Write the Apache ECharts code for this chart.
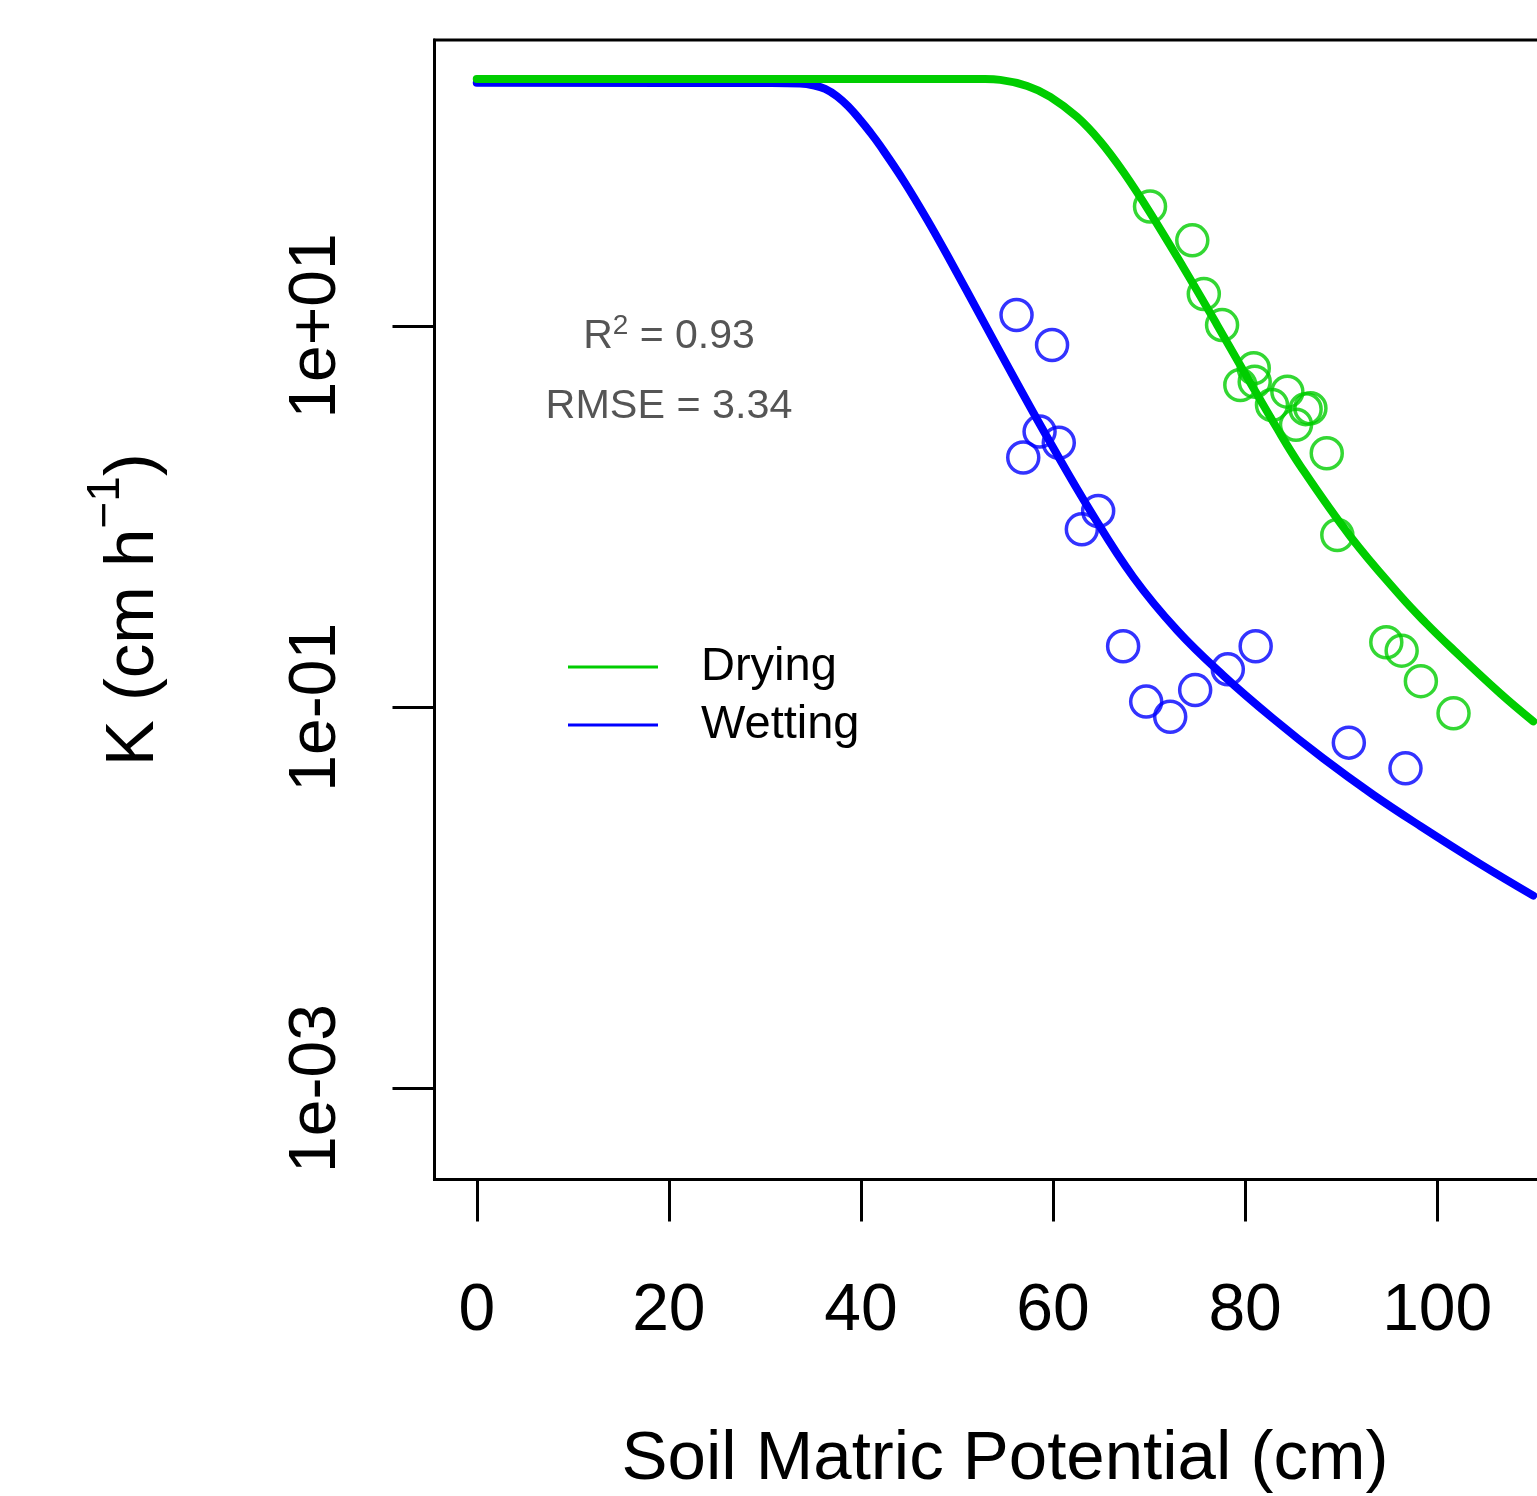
<!DOCTYPE html>
<html><head><meta charset="utf-8">
<script src="https://cdn.jsdelivr.net/npm/echarts@6/dist/echarts.min.js"></script>
<style>html,body{margin:0;padding:0;background:#fff;overflow:hidden}#c{width:1537px;height:1496px}</style>
</head><body><div id="c"></div>
<script>
const FONT = '"Liberation Sans", Arial, Helvetica, sans-serif';

// Axis ticks
const xTickValues = [0, 20, 40, 60, 80, 100, 120];
const yTickValues = [0.001, 0.1, 10];
const yTickLabels = ['1e-03', '1e-01', '1e+01'];

// Fitted curve: Drying (green)
const dryCurveX = [0, 52.94, 54.5, 57.31, 59.71, 62.52, 64.92, 67.31, 70.13, 73.56, 77.10, 80.54, 83.15, 85.75, 90.96, 96.17, 98.77, 101.38, 106.58, 110];
const dryCurveK = [197.0, 197.0, 195.2, 181.4, 159.1, 124.5, 92.9, 64.3, 39.07, 20.32, 10.09, 5.04, 3.002, 1.843, 0.7863, 0.3833, 0.2782, 0.2069, 0.1180, 0.0843];

// Fitted curve: Wetting (blue)
const wetCurveX = [0, 30.54, 33.67, 35.02, 36.27, 37.52, 38.67, 39.92, 40.96, 42.0, 44.40, 46.90, 49.29, 52.73, 56.27, 59.71, 63.88, 68.35, 72.94, 77.73, 82.94, 88.15, 93.35, 98.25, 104.5, 110];
const wetCurveK = [188.3, 187.9, 186.5, 182.7, 175.1, 160.0, 141.8, 120.4, 103.6, 88.0, 58.2, 36.05, 22.03, 10.60, 4.99, 2.445, 1.072, 0.482, 0.2526, 0.1468, 0.0870, 0.0538, 0.0347, 0.0238, 0.01504, 0.01028];

// Observations: Drying
const dryObsX = [70.1, 74.5, 75.7, 77.6, 80.9, 79.5, 81.0, 84.4, 82.8, 86.3, 86.8, 85.3, 88.5, 89.6, 94.7, 96.3, 98.3, 101.7];
const dryObsK = [42.3, 28.1, 14.7, 10.1, 6.0, 4.90, 5.10, 4.52, 3.85, 3.66, 3.70, 3.03, 2.15, 0.80, 0.219, 0.198, 0.137, 0.0929];

// Observations: Wetting
const wetObsX = [56.2, 59.9, 58.6, 60.6, 56.9, 64.7, 63.0, 67.3, 69.7, 72.2, 74.8, 78.2, 81.1, 90.8, 96.7];
const wetObsK = [11.4, 7.94, 2.79, 2.44, 2.04, 1.07, 0.857, 0.209, 0.107, 0.0892, 0.123, 0.158, 0.209, 0.0652, 0.0478];

const GREEN = '#00CD00', BLUE = '#0000FF';
const pairs = (xs, ys) => xs.map((x, i) => [x, ys[i]]);

function yLabel(v) {
  let best = 0, bd = Infinity;
  yTickValues.forEach((t, i) => { const d = Math.abs(Math.log10(v) - Math.log10(t)); if (d < bd) { bd = d; best = i; } });
  return yTickLabels[best];
}

const chart = echarts.init(document.getElementById('c'), null, {renderer: 'canvas'});
chart.setOption({
  animation: false,
  backgroundColor: '#fff',
  textStyle: {fontFamily: FONT},
  grid: {left: 434.5, top: 40, width: 1141, bottom: 316.5, show: true, borderColor: '#000', borderWidth: 3,
         containLabel: false, outerBoundsMode: 'none'},
  xAxis: {
    type: 'value', min: -4.4, max: 114.4,
    name: 'Soil Matric Potential (cm)', nameLocation: 'middle', nameGap: 246,
    nameTextStyle: {fontSize: 69, color: '#000', fontFamily: FONT},
    axisLine: {show: true, onZero: false, lineStyle: {color: '#000', width: 3}},
    axisTick: {show: true, length: 42, lineStyle: {color: '#000', width: 3}, customValues: xTickValues},
    axisLabel: {fontSize: 66, color: '#000', margin: 99, fontFamily: FONT, customValues: xTickValues},
    splitLine: {show: false}
  },
  yAxis: {
    type: 'log', logBase: 10, min: Math.pow(10, -3.477), max: Math.pow(10, 2.4995),
    name: '{m|K (cm h}{s|\u22121}{m|)}', nameLocation: 'middle', nameGap: 251, nameRotate: 90,
    nameTextStyle: {fontFamily: FONT, color: '#000', rich: {
      m: {fontSize: 69, lineHeight: 100, color: '#000', fontFamily: FONT},
      s: {fontSize: 46, lineHeight: 46, verticalAlign: 'top', color: '#000', fontFamily: FONT}
    }},
    axisLine: {show: true, onZero: false, lineStyle: {color: '#000', width: 3}},
    axisTick: {show: true, length: 42, lineStyle: {color: '#000', width: 3}, customValues: yTickValues},
    axisLabel: {fontSize: 66, color: '#000', margin: 85, rotate: 90, fontFamily: FONT, customValues: yTickValues, formatter: yLabel},
    splitLine: {show: false}, minorTick: {show: false}
  },
  legend: {
    left: 563, top: 637, orient: 'vertical', icon: 'rect', itemWidth: 90, itemHeight: 3, itemGap: 8,
    selectedMode: false, data: ['Drying', 'Wetting'],
    textStyle: {fontSize: 47, lineHeight: 50, color: '#000', fontFamily: FONT, padding: [0, 0, 0, 38]}
  },
  graphic: [
    {type: 'text', x: 669, y: 337, style: {
      text: '{a|R}{s|2}{a| = 0.93}', align: 'center', verticalAlign: 'middle',
      rich: {a: {fontSize: 41, lineHeight: 50, fill: '#555', fontFamily: FONT},
             s: {fontSize: 28, lineHeight: 28, verticalAlign: 'top', fill: '#555', fontFamily: FONT}}
    }},
    {type: 'text', x: 669, y: 407, style: {
      text: 'RMSE = 3.34', align: 'center', verticalAlign: 'middle', fontSize: 41.3, fill: '#555', fontFamily: FONT
    }}
  ],
  series: [
    {name: 'Drying obs', type: 'scatter', data: pairs(dryObsX, dryObsK), symbol: 'circle', symbolSize: 31,
     itemStyle: {color: 'rgba(0,0,0,0)', borderColor: GREEN, borderWidth: 3.5}, z: 2},
    {name: 'Wetting obs', type: 'scatter', data: pairs(wetObsX, wetObsK), symbol: 'circle', symbolSize: 31,
     itemStyle: {color: 'rgba(0,0,0,0)', borderColor: BLUE, borderWidth: 3.5}, z: 2},
    {name: 'Wetting', type: 'line', data: pairs(wetCurveX, wetCurveK), showSymbol: false, smooth: 0.4,
     color: BLUE, lineStyle: {color: BLUE, width: 8, join: 'round', cap: 'round'}, z: 3},
    {name: 'Drying', type: 'line', data: pairs(dryCurveX, dryCurveK), showSymbol: false, smooth: 0.4,
     color: GREEN, lineStyle: {color: GREEN, width: 8, join: 'round', cap: 'round'}, z: 4}
  ]
});
</script></body></html>
